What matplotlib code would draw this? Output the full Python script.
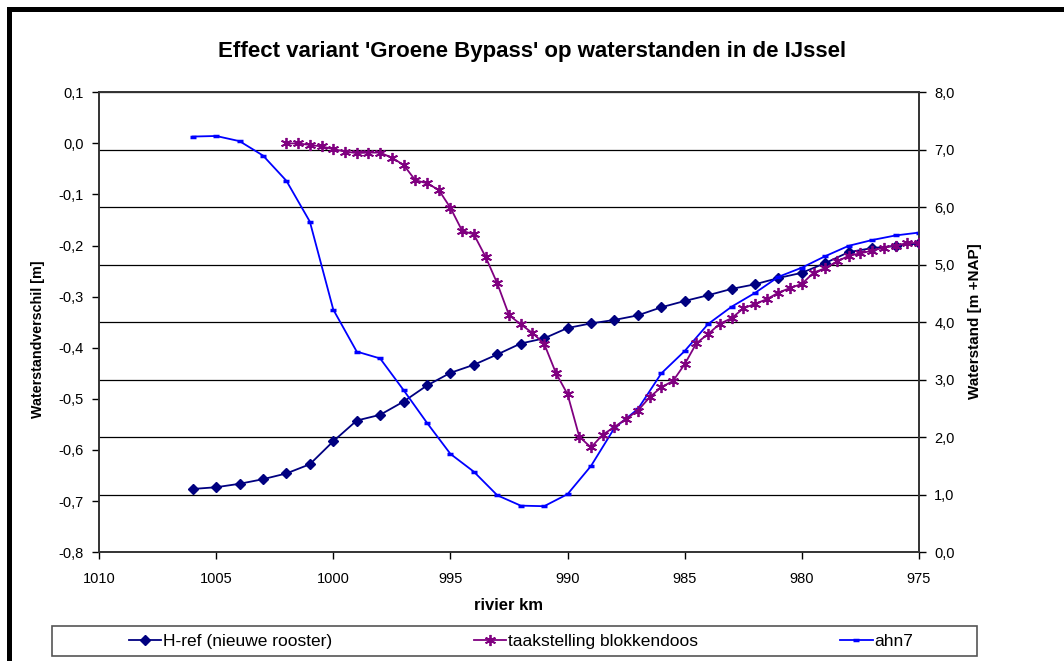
import matplotlib
matplotlib.use("Agg")
import matplotlib.pyplot as plt
from matplotlib.patches import Rectangle
from matplotlib.ticker import FuncFormatter, MultipleLocator

plt.rcParams['font.family'] = ['Liberation Sans', 'DejaVu Sans']

# ---- data ----
km_href = [1006, 1005, 1004, 1003, 1002, 1001, 1000, 999, 998, 997, 996, 995, 994, 993,
           992, 991, 990, 989, 988, 987, 986, 985, 984, 983, 982, 981, 980, 979, 978,
           977, 976, 975]
href = [1.10, 1.13, 1.19, 1.27, 1.37, 1.53, 1.93, 2.29, 2.39, 2.62, 2.90, 3.12, 3.26, 3.44,
        3.63, 3.72, 3.90, 3.98, 4.04, 4.12, 4.26, 4.37, 4.47, 4.58, 4.66, 4.77, 4.86, 5.03,
        5.22, 5.29, 5.33, 5.37]

km_taak = [1002.0, 1001.5, 1001.0, 1000.5, 1000.0, 999.5, 999.0, 998.5, 998.0, 997.5,
           997.0, 996.5, 996.0, 995.5, 995.0, 994.5, 994.0, 993.5, 993.0, 992.5, 992.0,
           991.5, 991.0, 990.5, 990.0, 989.5, 989.0, 988.5, 988.0, 987.5, 987.0, 986.5,
           986.0, 985.5, 985.0, 984.5, 984.0, 983.5, 983.0, 982.5, 982.0, 981.5, 981.0,
           980.5, 980.0, 979.5, 979.0, 978.5, 978.0, 977.5, 977.0, 976.5, 976.0, 975.5,
           975.0]
taak = [0.000, 0.000, -0.003, -0.006, -0.011, -0.016, -0.019, -0.018, -0.018, -0.028,
        -0.042, -0.072, -0.078, -0.091, -0.126, -0.171, -0.178, -0.222, -0.274, -0.336,
        -0.354, -0.371, -0.392, -0.449, -0.491, -0.574, -0.595, -0.570, -0.555, -0.539,
        -0.523, -0.497, -0.477, -0.465, -0.432, -0.391, -0.373, -0.353, -0.342, -0.323,
        -0.314, -0.305, -0.292, -0.283, -0.275, -0.253, -0.244, -0.231, -0.220, -0.215,
        -0.210, -0.204, -0.200, -0.195, -0.195]

km_ahn = [1006, 1005, 1004, 1003, 1002, 1001, 1000, 999, 998, 997, 996, 995, 994, 993,
          992, 991, 990, 989, 988, 987, 986, 985, 984, 983, 982, 981, 980, 979, 978,
          977, 976, 975]
ahn7 = [7.23, 7.24, 7.15, 6.90, 6.46, 5.75, 4.22, 3.49, 3.37, 2.82, 2.25, 1.71, 1.40, 0.99,
        0.81, 0.80, 1.01, 1.50, 2.16, 2.49, 3.11, 3.50, 3.97, 4.27, 4.51, 4.79, 4.95, 5.15,
        5.33, 5.43, 5.51, 5.56]

series_labels = ["H-ref (nieuwe rooster)", "taakstelling blokkendoos", "ahn7"]
title = "Effect variant 'Groene Bypass' op waterstanden in de IJssel"
xlabel = "rivier km"
ylabel_left = "Waterstandverschil [m]"
ylabel_right = "Waterstand [m +NAP]"

# ---- figure ----
W, H = 1064, 661
fig = plt.figure(figsize=(W / 100, H / 100), dpi=100)
fig.patch.set_facecolor('white')

def fx(px):
    return px / W

def fy(py):
    return 1 - py / H

L, R, T, B = 99, 919, 92.3, 552.2
ax = fig.add_axes([fx(L), fy(B), fx(R) - fx(L), fy(T) - fy(B)])
ax2 = ax.twinx()

ax.set_xlim(1010, 975)
ax.set_ylim(-0.8, 0.1)
ax2.set_ylim(0, 8)

comma = FuncFormatter(lambda v, p: ("%.1f" % v).replace('.', ',').replace('−', '-'))
ax.yaxis.set_major_locator(MultipleLocator(0.1))
ax.yaxis.set_major_formatter(comma)
ax2.yaxis.set_major_locator(MultipleLocator(1.0))
ax2.yaxis.set_major_formatter(comma)
ax.xaxis.set_major_locator(MultipleLocator(5))
ax.xaxis.set_major_formatter(FuncFormatter(lambda v, p: "%d" % v))

for a in (ax, ax2):
    a.tick_params(direction='out', length=5, width=1, colors='black', labelsize=10.5)
    for s in a.spines.values():
        s.set_color('#333333')
        s.set_linewidth(1.2)
ax.tick_params(axis='y', pad=6)
ax2.tick_params(axis='y', pad=6)
ax.tick_params(axis='x', pad=9)

# gridlines on the right axis
ax2.yaxis.grid(True, color='black', linewidth=0.9)
ax2.set_axisbelow(True)

l1, = ax2.plot(km_href, href, color='#000080', marker='D', markersize=5.5, linewidth=1.3,
               label=series_labels[0], zorder=3)
l2, = ax.plot(km_taak, taak, color='#800080', marker=(6, 2, 0), markersize=8,
              markeredgewidth=1.3, linewidth=1.3, label=series_labels[1], zorder=3)
l3, = ax2.plot(km_ahn, ahn7, color='#0000FF', marker='_', markersize=5,
               markeredgewidth=2.5, linewidth=1.3, label=series_labels[2], zorder=3)
ax.set_zorder(ax2.get_zorder() + 1)
ax.patch.set_visible(False)

fig.text(0.5, fy(52), title, ha='center', va='center', fontsize=16, fontweight='bold')
fig.text(fx((L + R) / 2), fy(606), xlabel, ha='center', va='center', fontsize=12,
         fontweight='bold')
fig.text(fx(38), fy(339), ylabel_left, ha='center', va='center', rotation=90,
         fontsize=10.3, fontweight='bold')
fig.text(fx(975), fy(321), ylabel_right, ha='center', va='center', rotation=90,
         fontsize=11, fontweight='bold')

# legend
fig.patches.append(Rectangle((fx(52), fy(656)), fx(977) - fx(52), fy(625.7) - fy(656),
                             transform=fig.transFigure, facecolor='white',
                             edgecolor='#555555', linewidth=1.2, zorder=1))
fig.legend([l1, l2, l3], series_labels, loc='center',
           bbox_to_anchor=(fx(521), fy(641)), ncol=3, frameon=False, fontsize=12.5,
           columnspacing=8.2, handlelength=1.85, handletextpad=0.1)

# outer border (left + top)
fig.patches.append(Rectangle((fx(7), 0), fx(5), fy(7), transform=fig.transFigure,
                             facecolor='black', edgecolor='none'))
fig.patches.append(Rectangle((fx(7), fy(12)), 1 - fx(7), fy(7) - fy(12),
                             transform=fig.transFigure, facecolor='black', edgecolor='none'))

fig.savefig('out.png', dpi=100)
